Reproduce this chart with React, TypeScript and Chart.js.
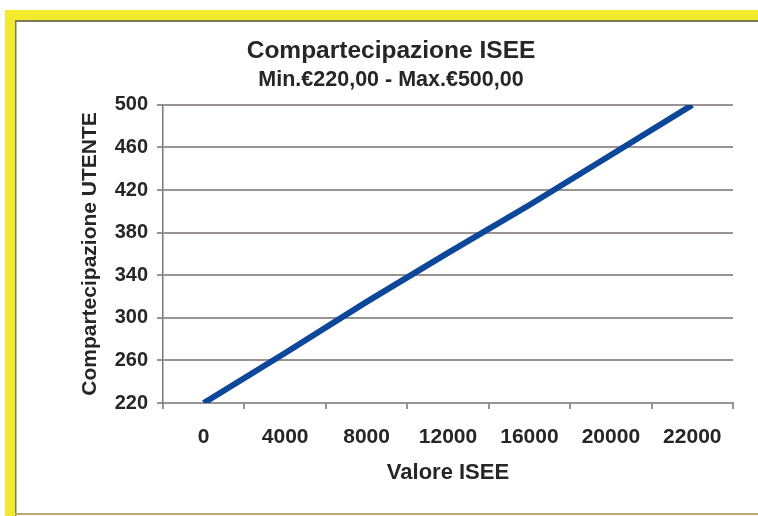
import React, { useEffect, useRef } from "react";
import { Chart, registerables } from "chart.js";

Chart.register(...registerables);

const categories = ["0", "4000", "8000", "12000", "16000", "20000", "22000"];
const quota = [220, 267, 315, 361, 406, 453, 500];
const yMin = 220;
const yMax = 500;
const yStep = 40;
const chartTitle = "Compartecipazione ISEE";
const chartSubtitle = "Min.€220,00 - Max.€500,00";
const xTitle = "Valore ISEE";
const yTitle = "Compartecipazione UTENTE";

const FONT = "'Liberation Sans', Arial, sans-serif";
const TEXT = "#262626";
const GRID = "#9a9393";

const framePlugin = {
  id: "frame",
  beforeDraw(chart: any) {
    const { ctx, width, height } = chart;
    ctx.save();
    ctx.fillStyle = "#ffffff";
    ctx.fillRect(0, 0, width, height);
    ctx.fillStyle = "#f3ea2e";
    ctx.fillRect(5, 10, width - 5, 10);
    ctx.fillRect(5, 10, 10, height - 10);
    ctx.fillStyle = "#7d7a52";
    ctx.fillRect(15, 20, width - 15, 2);
    ctx.fillRect(15, 20, 1.5, height - 20);
    ctx.fillStyle = "#b9a874";
    ctx.fillRect(15, 513, width - 15, 2);
    ctx.restore();
  },
};

export default function App() {
  const ref = useRef<HTMLCanvasElement>(null);

  useEffect(() => {
    if (!ref.current) return;
    const chart = new Chart(ref.current, {
      type: "line",
      data: {
        labels: categories,
        datasets: [
          {
            data: quota,
            borderColor: "#0c4799",
            borderWidth: 6,
            pointRadius: 0,
            tension: 0,
            fill: false,
          },
        ],
      },
      options: {
        responsive: false,
        animation: false,
        layout: { padding: { left: 49, right: 25, top: 0, bottom: 0 } },
        plugins: {
          legend: { display: false },
          tooltip: { enabled: false },
          title: {
            display: true,
            text: chartTitle,
            color: TEXT,
            font: { family: FONT, size: 24.5, weight: "bold", lineHeight: 1.2 },
            padding: { top: 37, bottom: 0 },
          },
          subtitle: {
            display: true,
            text: chartSubtitle,
            color: TEXT,
            font: { family: FONT, size: 21.5, weight: "bold", lineHeight: 1.2 },
            padding: { top: 1, bottom: 11.7 },
          },
        },
        scales: {
          x: {
            type: "category",
            offset: true,
            grid: {
              display: true,
              drawOnChartArea: false,
              drawTicks: true,
              offset: true,
              tickLength: 6,
              color: GRID,
              lineWidth: 2,
            },
            border: { display: true, color: GRID, width: 2 },
            ticks: {
              color: TEXT,
              font: { family: FONT, size: 21, weight: "bold" },
              padding: 16,
              maxRotation: 0,
              autoSkip: false,
            },
            title: {
              display: true,
              text: xTitle,
              color: TEXT,
              font: { family: FONT, size: 22, weight: "bold", lineHeight: 1.2 },
              padding: { top: 0, bottom: 30 },
            },
            afterFit(scale: any) {
              scale.height = 516 - 403;
            },
          },
          y: {
            min: yMin,
            max: yMax,
            ticks: {
              stepSize: yStep,
              color: TEXT,
              font: { family: FONT, size: 20, weight: "bold" },
              padding: 9,
            },
            grid: {
              color: GRID,
              lineWidth: 2,
              tickLength: 6,
            },
            border: { display: true, color: "#7a7777", width: 1.5 },
            title: {
              display: true,
              text: yTitle,
              color: TEXT,
              font: { family: FONT, size: 21, weight: "bold", lineHeight: 1.2 },
              padding: { top: 28.4, bottom: 0 },
            },
            afterFit(scale: any) {
              scale.width = 163 - 49;
            },
          },
        },
      },
      plugins: [framePlugin],
    });
    return () => chart.destroy();
  }, []);

  return (
    <div style={{ position: "fixed", left: 0, top: 0, width: 758, height: 516 }}>
      <canvas ref={ref} width={758} height={516} style={{ width: 758, height: 516, display: "block" }} />
    </div>
  );
}
